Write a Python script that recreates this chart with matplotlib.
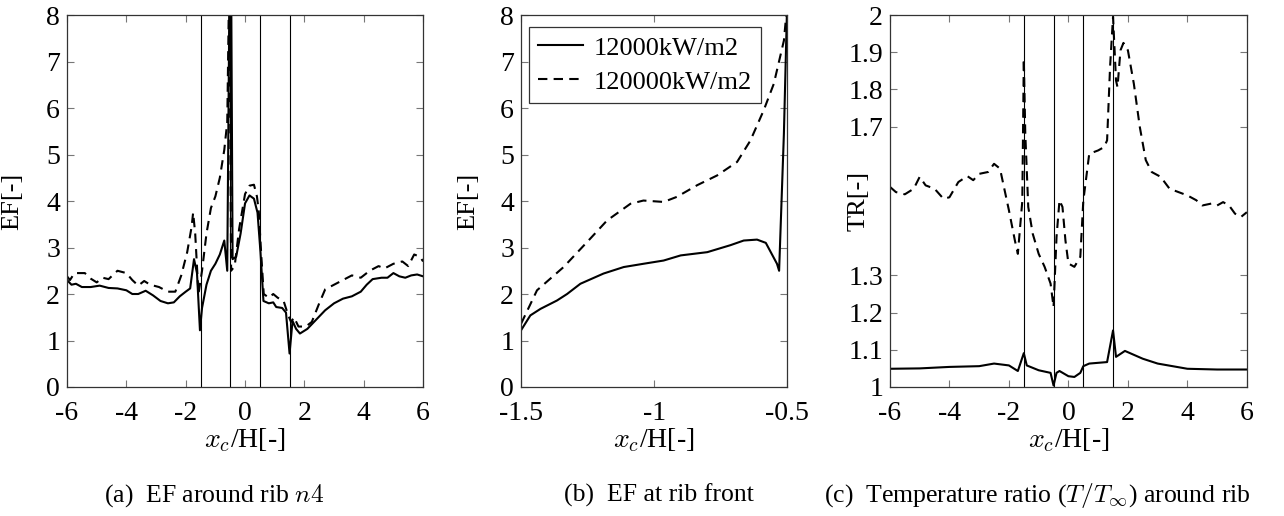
import matplotlib
matplotlib.use("Agg")
import matplotlib.pyplot as plt

plt.rcParams['font.family'] = ['Liberation Serif', 'DejaVu Serif']
plt.rcParams['mathtext.fontset'] = 'cm'
plt.rcParams['axes.unicode_minus'] = False

# (a) EF around rib n4
a_x_lo = [-6.0, -5.85, -5.7, -5.5, -5.2, -4.9, -4.6, -4.3, -4.0, -3.8, -3.6, -3.35, -3.1,
          -2.85, -2.6, -2.4, -2.2, -2.0, -1.85, -1.72, -1.62, -1.52, -1.45, -1.3, -1.15,
          -1.0, -0.85, -0.7, -0.6, -0.52, -0.47, -0.42, -0.3, -0.15, 0.0, 0.15, 0.3, 0.42,
          0.52, 0.62, 0.8, 0.95, 1.05, 1.25, 1.38, 1.5, 1.6, 1.72, 1.85, 2.1, 2.4, 2.7,
          3.0, 3.3, 3.6, 3.9, 4.1, 4.3, 4.6, 4.8, 5.0, 5.2, 5.4, 5.6, 5.8, 6.0]
a_y_lo = [2.30, 2.20, 2.22, 2.15, 2.15, 2.18, 2.13, 2.12, 2.08, 2.00, 2.00, 2.07, 1.97,
          1.85, 1.80, 1.82, 1.95, 2.05, 2.12, 2.75, 2.45, 1.22, 1.70, 2.20, 2.50,
          2.65, 2.85, 3.15, 2.50, 9.0, 9.0, 2.75, 2.80, 3.30, 3.95, 4.12, 4.05, 3.75,
          2.90, 1.85, 1.80, 1.82, 1.72, 1.70, 1.60, 0.72, 1.42, 1.25, 1.15, 1.25, 1.45, 1.65,
          1.80, 1.90, 1.95, 2.05, 2.20, 2.32, 2.35, 2.35, 2.45, 2.38, 2.35, 2.40, 2.42, 2.38]

a_x_hi = [-6.0, -5.9, -5.75, -5.4, -5.2, -5.0, -4.8, -4.6, -4.3, -4.0, -3.8, -3.6, -3.4,
          -3.2, -2.9, -2.6, -2.35, -2.15, -1.95, -1.8, -1.75, -1.68, -1.57, -1.45, -1.3,
          -1.15, -1.0, -0.85, -0.7, -0.6, -0.53, -0.47, -0.35, -0.2, 0.0, 0.15, 0.3, 0.4,
          0.46, 0.55, 0.63, 0.8, 0.95, 1.1, 1.3, 1.45, 1.55, 1.65, 1.8, 2.05, 2.25, 2.5,
          2.7, 3.0, 3.3, 3.6, 3.9, 4.2, 4.5, 4.7, 5.0, 5.3, 5.5, 5.7, 5.9, 6.0]
a_y_hi = [2.38, 2.30, 2.45, 2.45, 2.33, 2.25, 2.35, 2.32, 2.50, 2.45, 2.30, 2.18, 2.28,
          2.20, 2.15, 2.05, 2.05, 2.40, 2.90, 3.45, 3.75, 3.30, 2.00, 2.50, 3.30,
          3.85, 4.10, 4.50, 5.10, 5.70, 9.0, 2.50, 2.60, 3.40, 4.15, 4.33, 4.35, 4.10,
          3.80, 2.80, 2.00, 1.92, 2.00, 1.92, 1.85, 1.55, 1.40, 1.50, 1.30, 1.30, 1.40, 1.80,
          2.10, 2.20, 2.30, 2.40, 2.35, 2.50, 2.60, 2.55, 2.65, 2.70, 2.60, 2.85, 2.80, 2.70]

# (b) EF at rib front
b_x_lo = [-1.5, -1.465, -1.427, -1.365, -1.327, -1.277, -1.19, -1.114, -1.04, -0.964,
          -0.9, -0.8, -0.713, -0.663, -0.613, -0.58, -0.538, -0.53, -0.512, -0.5]
b_y_lo = [1.22, 1.54, 1.68, 1.86, 2.00, 2.22, 2.44, 2.58, 2.65, 2.72,
          2.83, 2.90, 3.05, 3.15, 3.17, 3.10, 2.65, 2.50, 5.45, 8.2]
b_x_hi = [-1.5, -1.44, -1.34, -1.24, -1.177, -1.089, -1.04, -0.964, -0.914, -0.838,
          -0.763, -0.688, -0.638, -0.588, -0.55, -0.512, -0.5]
b_y_hi = [1.36, 2.08, 2.58, 3.19, 3.58, 3.94, 4.01, 3.98, 4.09, 4.34,
          4.55, 4.84, 5.30, 5.95, 6.52, 7.45, 8.2]

# (c) temperature ratio around rib
c_x_lo = [-6.0, -5.0, -4.0, -3.0, -2.5, -2.0, -1.7, -1.5, -1.4, -1.0, -0.6, -0.5, -0.4,
          -0.3, 0.0, 0.2, 0.4, 0.5, 0.7, 1.3, 1.5, 1.6, 1.9, 2.5, 3.0, 4.0, 5.0, 6.0]
c_y_lo = [1.049, 1.050, 1.054, 1.056, 1.063, 1.058, 1.043, 1.091, 1.058, 1.045, 1.038,
          1.004, 1.038, 1.043, 1.029, 1.027, 1.038, 1.056, 1.063, 1.067, 1.152, 1.081,
          1.097, 1.076, 1.063, 1.049, 1.047, 1.047]
c_x_hi = [-6.0, -5.8, -5.5, -5.2, -5.0, -4.8, -4.5, -4.2, -4.0, -3.7, -3.4, -3.2, -3.0,
          -2.7, -2.5, -2.3, -2.0, -1.8, -1.7, -1.55, -1.5, -1.45, -1.35, -1.2, -1.0, -0.8,
          -0.6, -0.5, -0.4, -0.3, -0.2, -0.1, 0.0, 0.2, 0.4, 0.5, 0.7, 1.0, 1.2, 1.3, 1.4,
          1.5, 1.6, 1.65, 1.75, 1.85, 2.0, 2.2, 2.4, 2.6, 2.8, 3.1, 3.4, 3.7, 4.0, 4.3,
          4.5, 4.8, 5.0, 5.2, 5.4, 5.6, 5.8, 6.0]
c_y_hi = [1.538, 1.524, 1.518, 1.533, 1.565, 1.542, 1.533, 1.506, 1.510, 1.551, 1.567,
          1.556, 1.573, 1.578, 1.600, 1.587, 1.475, 1.394, 1.358, 1.500, 1.883, 1.681,
          1.484, 1.412, 1.358, 1.323, 1.278, 1.215, 1.403, 1.502, 1.484, 1.394, 1.332,
          1.323, 1.350, 1.500, 1.627, 1.636, 1.645, 1.663, 1.860, 1.995, 1.824, 1.806,
          1.905, 1.925, 1.905, 1.815, 1.699, 1.610, 1.578, 1.565, 1.533, 1.524, 1.515,
          1.502, 1.488, 1.493, 1.488, 1.497, 1.488, 1.466, 1.457, 1.470]

rib_edges = [-1.5, -0.5, 0.5, 1.5]
labels = ['12000kW/m2', '120000kW/m2']

FS = 20
lw = 1.5
dash = (4.5, 3)

fig = plt.figure(figsize=(12.84, 5.16), dpi=100)
ax1 = fig.add_axes([0.0522, 0.25, 0.2773, 0.7209])
ax2 = fig.add_axes([0.4058, 0.25, 0.2072, 0.7209])
ax3 = fig.add_axes([0.6931, 0.25, 0.278, 0.7209])


def style(ax):
    ax.tick_params(direction='in', top=True, right=True, length=5, width=0.8,
                   color='#777777', labelsize=FS)
    ax.tick_params(axis='x', pad=10)
    ax.tick_params(axis='y', pad=5)
    for s in ax.spines.values():
        s.set_color('#333333')
        s.set_linewidth(0.9)
    ax.set_xlabel(r'$x_c$/H[-]', fontsize=FS, labelpad=0)


ax1.plot(a_x_lo, a_y_lo, 'k-', lw=lw)
ax1.plot(a_x_hi, a_y_hi, 'k--', lw=lw, dashes=dash)
for xe in rib_edges:
    ax1.axvline(xe, color='black', lw=0.8)
ax1.set_xlim(-6, 6)
ax1.set_ylim(0, 8)
ax1.set_xticks([-6, -4, -2, 0, 2, 4, 6])
ax1.set_yticks(range(0, 9))
style(ax1)
ax1.set_ylabel('EF[-]', fontsize=19)
ax1.yaxis.set_label_coords(-0.122, 0.5)

ax2.plot(b_x_lo, b_y_lo, 'k-', lw=lw, label=labels[0])
ax2.plot(b_x_hi, b_y_hi, 'k--', lw=lw, dashes=dash, label=labels[1])
ax2.set_xlim(-1.5, -0.5)
ax2.set_ylim(0, 8)
ax2.set_xticks([-1.5, -1, -0.5])
ax2.set_xticklabels(['-1.5', '-1', '-0.5'])
ax2.set_yticks(range(0, 9))
style(ax2)
ax2.set_ylabel('EF[-]', fontsize=19)
ax2.yaxis.set_label_coords(-0.158, 0.5)
leg = ax2.legend(loc='upper left', bbox_to_anchor=(0.03, 0.968), borderaxespad=0,
                 fontsize=19, frameon=True, fancybox=False, edgecolor='#333333',
                 handlelength=1.7, labelspacing=0.4, borderpad=0.35,
                 handletextpad=0.4, framealpha=1)
leg.get_frame().set_linewidth(0.9)

ax3.plot(c_x_lo, c_y_lo, 'k-', lw=lw)
ax3.plot(c_x_hi, c_y_hi, 'k--', lw=lw, dashes=dash)
for xe in rib_edges:
    ax3.axvline(xe, color='black', lw=0.8)
ax3.set_xlim(-6, 6)
ax3.set_ylim(1, 2)
ax3.set_xticks([-6, -4, -2, 0, 2, 4, 6])
ax3.set_yticks([1, 1.1, 1.2, 1.3, 1.7, 1.8, 1.9, 2])
ax3.set_yticklabels(['1', '1.1', '1.2', '1.3', '1.7', '1.8', '1.9', '2'])
style(ax3)
ax3.set_ylabel('TR[-]', fontsize=19)
ax3.yaxis.set_label_coords(-0.058, 0.5)

cap_y = 0.027
cap_fs = 18.5
fig.text(214 / 1284, cap_y, r'(a)  EF around rib $n4$', ha='center', va='baseline', fontsize=cap_fs)
fig.text(659 / 1284, cap_y, '(b)  EF at rib front', ha='center', va='baseline', fontsize=cap_fs)
fig.text(1037 / 1284, cap_y, r'(c)  Temperature ratio ($T/T_{\infty}$) around rib',
         ha='center', va='baseline', fontsize=cap_fs)

fig.savefig('out.png', dpi=100)
